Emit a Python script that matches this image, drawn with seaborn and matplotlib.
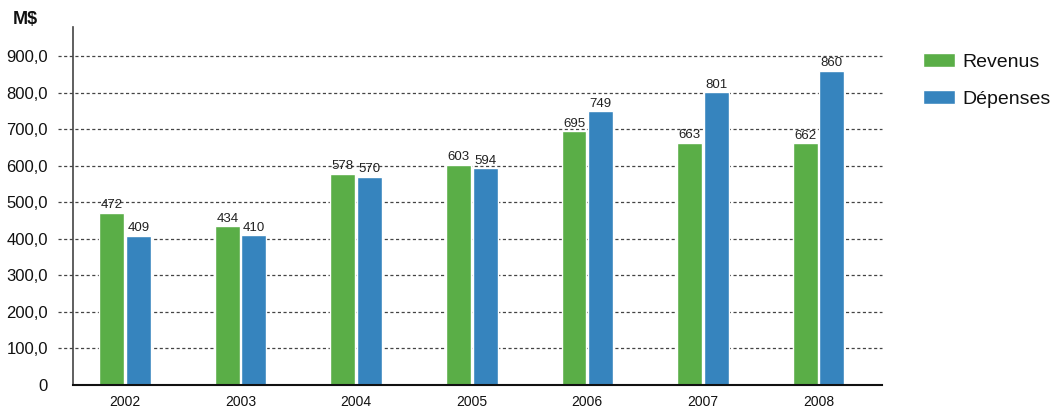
import matplotlib
matplotlib.use("Agg")
import matplotlib.pyplot as plt
import seaborn as sns
import pandas as pd
from matplotlib.patches import Patch

years = ["2002", "2003", "2004", "2005", "2006", "2007", "2008"]
revenus = [472, 434, 578, 603, 695, 663, 662]
depenses = [409, 410, 570, 594, 749, 801, 860]
series = ["Revenus", "Dépenses"]
yticks = [0, 100, 200, 300, 400, 500, 600, 700, 800, 900]
ytick_labels = ["0", "100,0", "200,0", "300,0", "400,0", "500,0", "600,0", "700,0", "800,0", "900,0"]
colors = ["#5AAE47", "#3684BE"]

df = pd.DataFrame({
    "year": years * 2,
    "value": revenus + depenses,
    "series": [series[0]] * len(years) + [series[1]] * len(years),
})

sns.set_theme(style="white")
plt.rcParams["font.family"] = ["Liberation Sans", "DejaVu Sans"]

fig = plt.figure(figsize=(10.52, 4.07), dpi=100)
ax = fig.add_axes([73 / 1052, 1 - 385 / 407, (882 - 73) / 1052, (385 - 27) / 407])

sns.barplot(data=df, x="year", y="value", hue="series", palette=colors,
            width=0.46, gap=0.06, ax=ax, legend=False, saturation=1)

for c in ax.containers:
    ax.bar_label(c, fmt="%d", fontsize=9.5, padding=1, color="#222222")

ax.set_xlim(-0.45, 6.55)
ax.set_ylim(0, 980)
ax.set_yticks(yticks)
ax.set_yticklabels(ytick_labels, fontsize=12, color="#111111")
ax.tick_params(axis="y", length=0, pad=18)
ax.tick_params(axis="x", length=0, pad=7, labelsize=10, labelcolor="#111111")
ax.set_xlabel("")
ax.set_ylabel("")

for y in yticks[1:]:
    ax.axhline(y, xmin=-0.018, xmax=1, color="#444444", lw=0.9,
               linestyle=(0, (2.5, 2)), clip_on=False, zorder=0)

for s in ["top", "right"]:
    ax.spines[s].set_visible(False)
ax.spines["left"].set_color("#444444")
ax.spines["left"].set_linewidth(1.2)
ax.spines["bottom"].set_color("#111111")
ax.spines["bottom"].set_linewidth(1.5)

fig.text(13 / 1052, 1 - 20 / 407, "M$", fontsize=13, fontweight="bold",
         color="#111111", va="center", ha="left")

handles = [Patch(facecolor=colors[0]), Patch(facecolor=colors[1])]
fig.legend(handles, series, loc="upper left", bbox_to_anchor=(923 / 1052, 1 - 53 / 407),
           frameon=False, fontsize=14, handlelength=1.65, handleheight=0.72,
           labelspacing=1.0, handletextpad=0.4, borderpad=0, borderaxespad=0,
           labelcolor="#111111")

fig.savefig("out.png", dpi=100)
